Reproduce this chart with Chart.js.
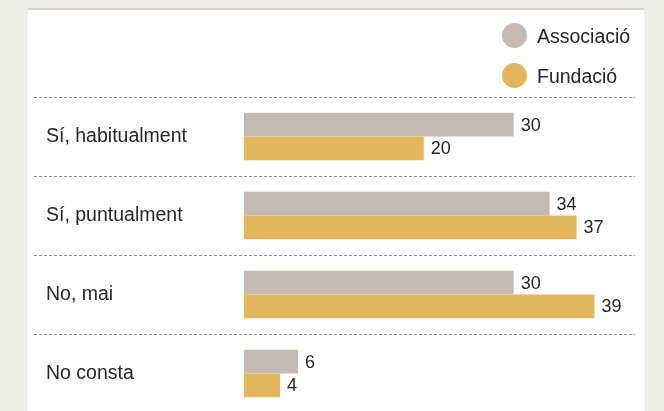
<!DOCTYPE html>
<html>
<head>
<meta charset="utf-8">
<script src="https://cdn.jsdelivr.net/npm/chart.js@4/dist/chart.umd.min.js"></script>
<style>
  html, body { margin: 0; padding: 0; background: #efede8; overflow: hidden; }
  #panel {
    position: absolute; left: 28px; top: 8px; width: 616px; height: 420px;
    background: #ffffff; border-top: 2px solid #d9d0c5;
  }
  #chart { position: absolute; left: 0; top: 0; }
</style>
</head>
<body>
<div id="panel"></div>
<canvas id="chart" width="664" height="413"></canvas>
<script>
// Answers and percentages per legal form
const categories = ['Sí, habitualment', 'Sí, puntualment', 'No, mai', 'No consta'];
const associacio = [30, 34, 30, 6];
const fundacio = [20, 37, 39, 4];
const seriesNames = ['Associació', 'Fundació'];
const seriesColors = ['#c4b9b0', '#e2b65a'];

const FONT = "'Liberation Sans', Arial, Helvetica, sans-serif";
const TEXT = '#262626';

// Value printed just past the end of each bar
const valueLabels = {
  id: 'valueLabels',
  afterDatasetsDraw(chart) {
    const ctx = chart.ctx;
    ctx.save();
    ctx.font = '18px ' + FONT;
    ctx.fillStyle = TEXT;
    ctx.textAlign = 'left';
    ctx.textBaseline = 'middle';
    chart.data.datasets.forEach((ds, di) => {
      chart.getDatasetMeta(di).data.forEach((bar, i) => {
        ctx.fillText(String(ds.data[i]), bar.x + 7, bar.y + 1);
      });
    });
    ctx.restore();
  }
};

// Stacked legend in the top-right corner, round markers
const cornerLegend = {
  id: 'cornerLegend',
  afterDraw(chart) {
    const ctx = chart.ctx;
    const right = chart.chartArea.right;
    ctx.save();
    ctx.font = '19.5px ' + FONT;
    ctx.textAlign = 'left';
    ctx.textBaseline = 'alphabetic';
    chart.data.datasets.forEach((ds, i) => {
      const cy = 35.5 + i * 40;
      ctx.beginPath();
      ctx.arc(right - 120.5, cy, 12.5, 0, Math.PI * 2);
      ctx.fillStyle = ds.backgroundColor;
      ctx.fill();
      ctx.fillStyle = TEXT;
      ctx.fillText(ds.label, right - 98, cy + 7.5);
    });
    ctx.restore();
  }
};

new Chart(document.getElementById('chart'), {
  type: 'bar',
  data: {
    labels: categories,
    datasets: [
      { label: seriesNames[0], data: associacio, backgroundColor: seriesColors[0] },
      { label: seriesNames[1], data: fundacio, backgroundColor: seriesColors[1] }
    ]
  },
  options: {
    indexAxis: 'y',
    responsive: false,
    animation: false,
    devicePixelRatio: 1,
    datasets: { bar: { barPercentage: 1, categoryPercentage: 0.6, borderWidth: 0 } },
    layout: { padding: { left: 46, top: 97, right: 29, bottom: 0 } },
    plugins: { legend: { display: false }, tooltip: { enabled: false } },
    scales: {
      x: { display: false, min: 0, max: 43.5 },
      y: {
        type: 'category',
        position: 'left',
        afterFit(scale) {
          scale.width = 198;
          scale.paddingTop = 0;
          scale.paddingBottom = 0;
        },
        grid: {
          display: true,
          offset: true,
          drawOnChartArea: true,
          drawTicks: true,
          tickLength: 210,
          color: '#8e8e8e',
          tickColor: '#8e8e8e',
          lineWidth: 1,
          tickWidth: 1,
          tickBorderDash: [3, 2]
        },
        border: { display: false, dash: [3, 2] },
        ticks: {
          crossAlign: 'far',
          autoSkip: false,
          color: TEXT,
          font: { family: FONT, size: 19.5 }
        }
      }
    }
  },
  plugins: [valueLabels, cornerLegend]
});
</script>
</body>
</html>
